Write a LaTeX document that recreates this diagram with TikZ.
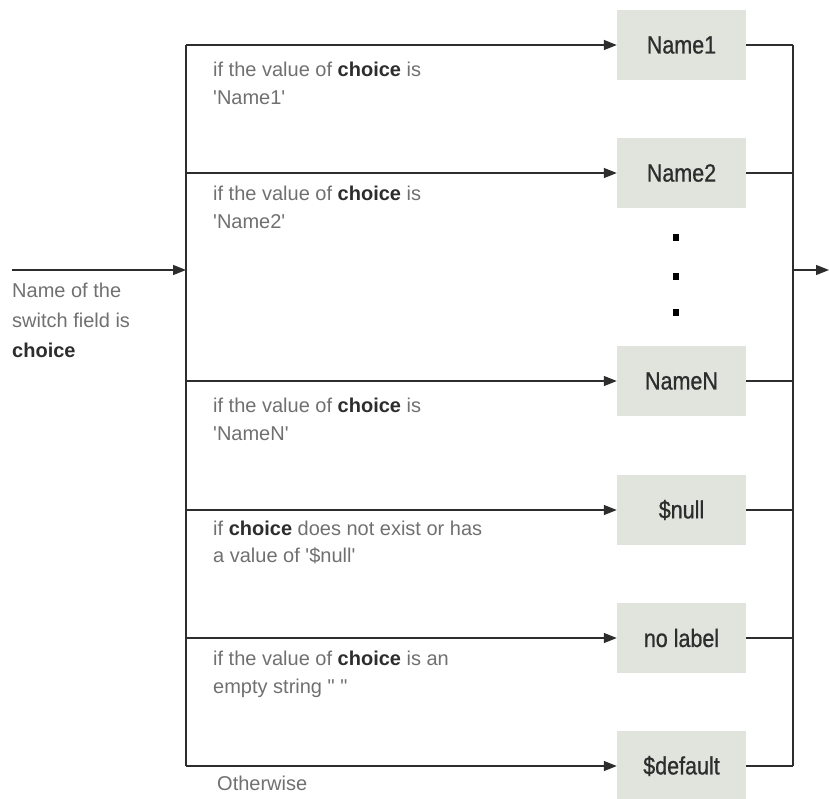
\documentclass[tikz,border=0pt]{standalone}
\usepackage{fontspec}
\setmainfont{Liberation Sans}[Ligatures=TeXOff]
\newfontfamily\boxfont{Liberation Sans}[Ligatures=TeXOff,FakeStretch=0.86,FakeBold=0.8]
\usetikzlibrary{arrows.meta}
\definecolor{boxfill}{RGB}{224,228,220}
\definecolor{linec}{RGB}{45,45,45}
\definecolor{txtc}{RGB}{112,112,112}
\definecolor{boldc}{RGB}{45,45,45}
\newcommand{\chc}{\textcolor{boldc}{\textbf{choice}}}
\begin{document}
\begin{tikzpicture}[x=1pt,y=-1pt,
  wire/.style={draw=linec, line width=1.3pt},
  arr/.style={wire, -{Triangle[length=13pt,width=10pt]}},
  box/.style={fill=boxfill, minimum width=129pt, minimum height=70pt, inner sep=0pt,
    font=\boxfont\fontsize{25}{30}\selectfont, text=boldc},
  lbl/.style={anchor=base west, inner sep=0pt, text=txtc, font=\fontsize{20}{24}\selectfont},
  sqdot/.style={fill=black, minimum width=6pt, minimum height=7pt, inner sep=0pt}]
\useasboundingbox (0,0) rectangle (829,798);

% boxes
\node[box] (b1) at (681.5,45) {Name1};
\node[box] (b2) at (681.5,173) {Name2};
\node[box] (bN) at (681.5,381) {NameN};
\node[box] (bnull) at (681.5,510) {\$null};
\node[box] (bnol) at (681.5,638) {no label};
\node[box] (bdef) at (681.5,766) {\$default};

% dots
\node[sqdot] (d1) at (676,237) {};
\node[sqdot] (d2) at (676,276) {};
\node[sqdot] (d3) at (676,312) {};

% left bus junctions
\coordinate (j1) at (186,45);
\coordinate (j2) at (186,173);
\coordinate (jN) at (186,381);
\coordinate (jnull) at (186,510);
\coordinate (jnol) at (186,638);
\coordinate (jdef) at (186,766);
\coordinate (jin) at (186,270);
\coordinate (in) at (12,270);

% right bus junctions
\coordinate (r1) at (793,45);
\coordinate (r2) at (793,173);
\coordinate (rN) at (793,381);
\coordinate (rnull) at (793,510);
\coordinate (rnol) at (793,638);
\coordinate (rdef) at (793,766);
\coordinate (rout) at (793,270);
\coordinate (out) at (829,270);

% left bus
\draw[wire] (j1) -- (jdef);
\draw[arr] (in) -- (jin);
\draw[arr] (j1) -- (b1.west);
\draw[arr] (j2) -- (b2.west);
\draw[arr] (jN) -- (bN.west);
\draw[arr] (jnull) -- (bnull.west);
\draw[arr] (jnol) -- (bnol.west);
\draw[arr] (jdef) -- (bdef.west);

% right bus
\draw[wire] (b1.east) -- (r1);
\draw[wire] (b2.east) -- (r2);
\draw[wire] (bN.east) -- (rN);
\draw[wire] (bnull.east) -- (rnull);
\draw[wire] (bnol.east) -- (rnol);
\draw[wire] (bdef.east) -- (rdef);
\draw[wire] (r1) -- (rdef);
\draw[arr] (rout) -- (out);

% input label
\node[lbl] (in1) at (12,297) {Name of the};
\node[lbl] (in2) at (12,327) {switch field is};
\node[lbl] (in3) at (12,357) {\chc};

% branch labels
\node[lbl] (l1a) at (213,76) {if the value of \chc{} is};
\node[lbl] (l1b) at (213,104) {'Name1'};
\node[lbl] (l2a) at (213,200) {if the value of \chc{} is};
\node[lbl] (l2b) at (213,228) {'Name2'};
\node[lbl] (lNa) at (213,412) {if the value of \chc{} is};
\node[lbl] (lNb) at (213,440) {'NameN'};
\node[lbl] (lnulla) at (213,535) {if \chc{} does not exist or has};
\node[lbl] (lnullb) at (213,562) {a value of '\$null'};
\node[lbl] (lnola) at (213,665) {if the value of \chc{} is an};
\node[lbl] (lnolb) at (213,693) {empty string " "};
\node[lbl] (ldef) at (217,790) {Otherwise};
\end{tikzpicture}
\end{document}
